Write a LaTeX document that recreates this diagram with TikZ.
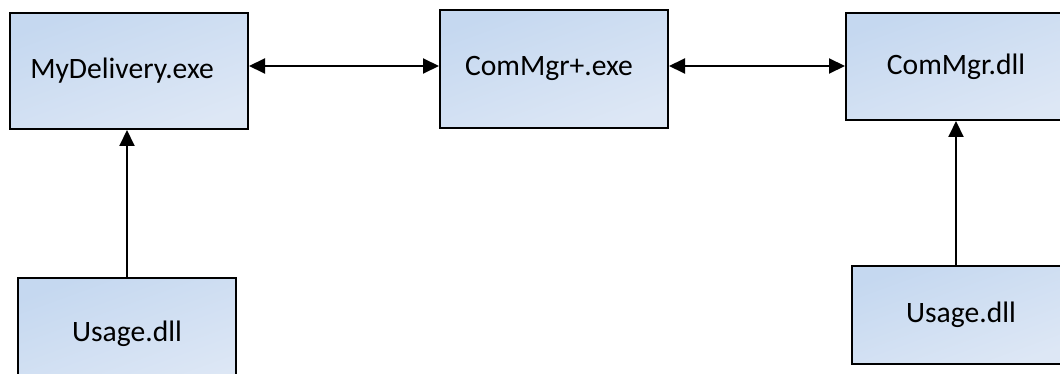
\documentclass[tikz,border=0pt]{standalone}
\usepackage{fontspec}
\setmainfont{Carlito}
\usepackage{xcolor}
\definecolor{BoxTop}{HTML}{C5D8F0}
\definecolor{BoxBottom}{HTML}{DDE7F5}
\usepackage{tikz}
\usetikzlibrary{arrows.meta, positioning}
\tikzset{
  box/.style={
    rectangle, draw=black, line width=1pt,
    top color=BoxTop, bottom color=BoxBottom, shading angle=20,
    align=center, inner sep=0pt,
    font=\fontsize{14.8pt}{17pt}\selectfont
  },
  arr/.style={-{Triangle[length=8pt, width=7.5pt]}, line width=1pt, color=black},
  dArr/.style={{Triangle[length=8pt, width=7.5pt]}-{Triangle[length=8pt, width=7.5pt]}, line width=1pt, color=black},
}

\begin{document}
\begin{tikzpicture}[x=0.5pt, y=-0.5pt]

% page = 1060 x 374 px, one unit = one pixel
\clip (0,0) rectangle (1060,374);

\node[box, minimum width=119pt, minimum height=58pt] at (129,71) (my) {\raisebox{3pt}{MyDelivery.exe}\hspace*{7pt}};
\node[box, minimum width=114pt, minimum height=59pt] at (554,69) (cmp) {\raisebox{3pt}{ComMgr+.exe}\hspace*{5pt}};
\node[box, minimum width=113pt, minimum height=53.5pt] at (959,66.5) (cmd) {\raisebox{2pt}{ComMgr.dll}\hspace*{3pt}};

\node[box, minimum width=109pt, minimum height=56pt] at (127,334) (usL) {\raisebox{2pt}{Usage.dll}};
\node[box, minimum width=109pt, minimum height=49pt] at (961,315) (usR) {Usage.dll};

% links between the three top boxes
\draw[dArr] ([yshift=2.5pt]my.east) -- ([yshift=2.5pt]my.east -| cmp.west);
\draw[dArr] ([yshift=1.5pt]cmp.east) -- ([yshift=1.5pt]cmp.east -| cmd.west);

% usage libraries feed upwards
\draw[arr] (usL.north) -- (usL.north |- my.south);
\draw[arr] ([xshift=-2.5pt]usR.north) -- ([xshift=-2.5pt]usR.north |- cmd.south);

\end{tikzpicture}
\end{document}
